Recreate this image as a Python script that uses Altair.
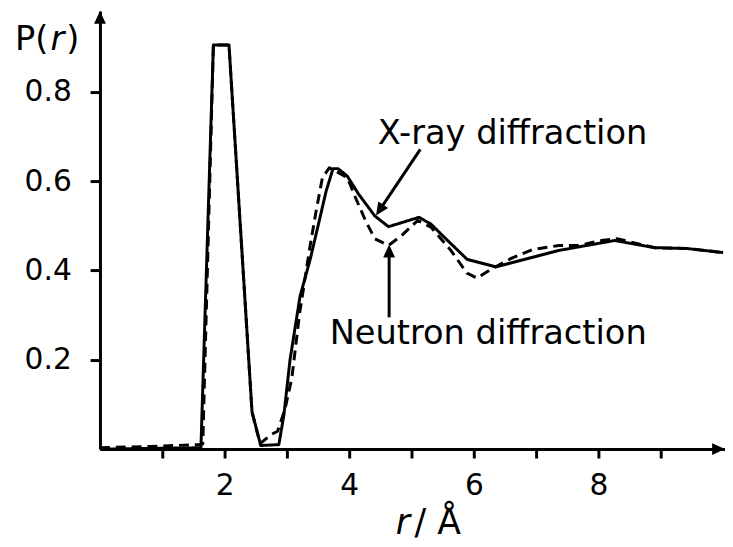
import altair as alt
import pandas as pd

# ---- data ----
r_xray = [0.0, 1.62, 1.82, 2.07, 2.44, 2.58, 2.87, 2.95, 3.05, 3.21, 3.37, 3.50, 3.63, 3.74,
          3.82, 3.97, 4.15, 4.41, 4.63, 5.12, 5.31, 5.52, 5.89, 6.35, 7.37, 8.26, 8.90, 9.43, 10.0]
g_xray = [0.0, 0.003, 0.905, 0.905, 0.083, 0.008, 0.010, 0.075, 0.200, 0.342, 0.423, 0.500, 0.578, 0.628,
          0.628, 0.611, 0.571, 0.522, 0.498, 0.519, 0.504, 0.475, 0.425, 0.408, 0.445, 0.467, 0.451, 0.449, 0.440]

r_neut = [0.0, 0.8, 1.6, 1.65, 1.82, 2.07, 2.44, 2.57, 2.74, 2.85, 2.97, 3.08, 3.20, 3.36, 3.47, 3.57,
          3.68, 3.97, 4.10, 4.26, 4.41, 4.63, 4.84, 5.10, 5.31, 5.63, 5.89, 6.05, 6.28, 6.60, 6.95,
          7.37, 7.68, 8.05, 8.30, 8.90, 9.43, 10.0]
g_neut = [0.003, 0.006, 0.010, 0.012, 0.905, 0.905, 0.083, 0.012, 0.032, 0.040, 0.090, 0.160, 0.300, 0.445, 0.534, 0.608,
          0.630, 0.608, 0.563, 0.512, 0.471, 0.456, 0.478, 0.512, 0.497, 0.445, 0.394, 0.383, 0.403, 0.427, 0.447,
          0.456, 0.456, 0.467, 0.471, 0.451, 0.449, 0.440]

x_ticks = [1, 2, 3, 4, 5, 6, 7, 8, 9]
y_ticks = [0.2, 0.4, 0.6, 0.8]

label_xray = "X-ray diffraction"
label_neut = "Neutron diffraction"

X_MAX = 10.03
Y_MAX = 0.981
W = 632
H = 443
FONT = "DejaVu Sans"
FS = 30
FS_ANN = 34
FS_TITLE = 35

df = pd.concat([
    pd.DataFrame({"r": r_xray, "g": g_xray, "series": "X-ray"}),
    pd.DataFrame({"r": r_neut, "g": g_neut, "series": "Neutron"}),
], ignore_index=True)

xs = alt.Scale(domain=[0, X_MAX], nice=False, zero=False)
ys = alt.Scale(domain=[0, Y_MAX], nice=False)

x_axis = alt.Axis(values=x_ticks, title=None, grid=False, format="d",
                  labelExpr="datum.value % 2 == 0 ? datum.label : ''",
                  tickSize=9, labelPadding=13)
y_axis = alt.Axis(values=y_ticks, title=None, grid=False, format=".1f",
                  tickSize=10, labelPadding=19)

lines = alt.Chart(df).mark_line(color="black", strokeWidth=3, strokeJoin="round").encode(
    x=alt.X("r:Q", scale=xs, axis=x_axis),
    y=alt.Y("g:Q", scale=ys, axis=y_axis),
    strokeDash=alt.StrokeDash("series:N",
                              scale=alt.Scale(domain=["X-ray", "Neutron"], range=[[1, 0], [10, 6]]),
                              legend=None),
)

HEAD = "M0,0L-0.46,1L0.46,1Z"

# axis arrowheads
ax_df = pd.DataFrame({"r": [0.0, X_MAX], "g": [Y_MAX, 0.0], "ang": [0, 90]})
ax_heads = alt.Chart(ax_df).mark_point(shape=HEAD, filled=True, color="black", opacity=1,
                                        size=676, strokeWidth=0).encode(
    x=alt.X("r:Q", scale=xs), y=alt.Y("g:Q", scale=ys),
    angle=alt.Angle("ang:Q", scale=None),
)

# annotation arrows
arr_df = pd.DataFrame({
    "r": [5.14, 4.64], "g": [0.671, 0.295],
    "r2": [4.50, 4.64], "g2": [0.538, 0.440],
    "tr": [4.43, 4.64], "tg": [0.523, 0.458],
    "ang": [213.8, 0],
})
arr_lines = alt.Chart(arr_df).mark_rule(color="black", strokeWidth=3).encode(
    x=alt.X("r:Q", scale=xs), y=alt.Y("g:Q", scale=ys),
    x2="r2:Q", y2="g2:Q",
)
arr_heads = alt.Chart(arr_df).mark_point(shape=HEAD, filled=True, color="black", opacity=1,
                                         size=676, strokeWidth=0).encode(
    x=alt.X("tr:Q", scale=xs), y=alt.Y("tg:Q", scale=ys),
    angle=alt.Angle("ang:Q", scale=None),
)

lab_df = pd.DataFrame({"r": [6.62, 6.23], "g": [0.684, 0.235], "t": [label_xray, label_neut]})
labels = alt.Chart(lab_df).mark_text(font=FONT, fontSize=FS_ANN, color="black", align="center",
                                     baseline="alphabetic").encode(
    x=alt.X("r:Q", scale=xs), y=alt.Y("g:Q", scale=ys), text="t:N",
)

def txt(s, x, y, size, italic=False):
    return alt.Chart(pd.DataFrame({"t": [s]})).mark_text(
        font=FONT, fontSize=size, color="black", align="left", baseline="alphabetic",
        fontStyle="italic" if italic else "normal",
    ).encode(x=alt.value(x), y=alt.value(y), text="t:N")

titles = (txt("P(", -86, 39, FS_ANN) + txt("r", -50, 39, FS_ANN, True) + txt(")", -34, 39, FS_ANN)
          + txt("r", 299, 529, FS_TITLE, True) + txt("/ Å", 318, 529, FS_TITLE))

chart = alt.layer(lines, ax_heads, arr_lines, arr_heads, labels, titles).properties(
    width=W, height=H,
    autosize=alt.AutoSizeParams(type="none"),
    padding={"left": 93, "top": 0, "right": 0, "bottom": 96},
    background="white",
).configure_view(stroke=None).configure_axis(
    domainColor="black", domainWidth=3, tickColor="black", tickWidth=3,
    labelColor="black", labelFont=FONT, labelFontSize=FS, labelFlush=False, labelOverlap=False,
)

chart.save("out.html", embed_options={"renderer": "svg", "actions": False})
